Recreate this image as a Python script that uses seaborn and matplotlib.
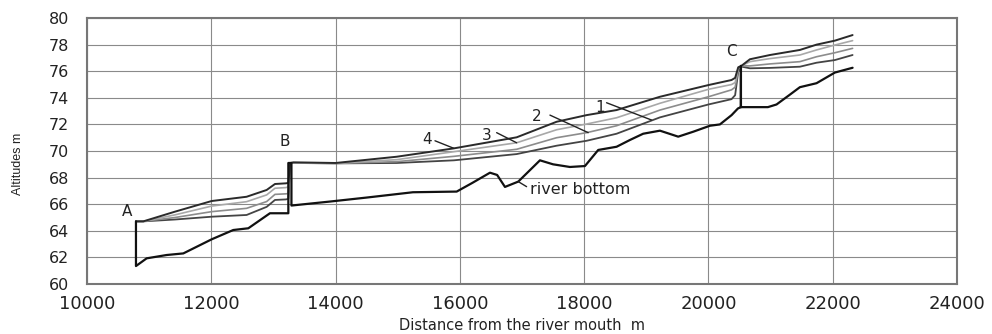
import matplotlib
matplotlib.use("Agg")
import matplotlib.pyplot as plt
import seaborn as sns
import pandas as pd

# ---- data ----
water_x = [10788, 10906, 11416, 12006, 12568, 12891, 13025, 13200, 13240, 13270, 13320,
           14000, 14983, 15905, 16914, 17557, 18040, 18522, 19220, 20000, 20372, 20430,
           20480, 20530, 20668, 20990, 21472, 21740, 22035, 22320]
line4 = [64.71, 64.71, 65.44, 66.24, 66.56, 67.07, 67.52, 67.57, 67.6, 69.1, 69.15,
         69.1, 69.57, 70.2, 71.03, 72.2, 72.7, 73.08, 74.08, 74.96, 75.34, 75.5,
         76.3, 76.4, 76.9, 77.22, 77.6, 78.0, 78.3, 78.72]
line3 = [64.71, 64.71, 65.2, 65.86, 66.19, 66.7, 67.2, 67.25, 67.3, 69.1, 69.1,
         69.08, 69.35, 69.95, 70.62, 71.6, 72.03, 72.5, 73.59, 74.64, 75.0, 75.15,
         76.2, 76.4, 76.72, 76.95, 77.22, 77.6, 77.97, 78.3]
line2 = [64.71, 64.71, 65.0, 65.44, 65.69, 66.2, 66.74, 66.78, 66.8, 69.1, 69.1,
         69.07, 69.2, 69.6, 70.13, 71.0, 71.38, 71.9, 73.08, 74.08, 74.6, 74.8,
         76.1, 76.4, 76.4, 76.55, 76.72, 77.09, 77.39, 77.72]
line1 = [64.71, 64.71, 64.85, 65.06, 65.19, 65.8, 66.32, 66.36, 66.4, 69.1, 69.1,
         69.07, 69.1, 69.3, 69.77, 70.4, 70.77, 71.3, 72.53, 73.5, 73.9, 74.2,
         76.0, 76.35, 76.22, 76.25, 76.34, 76.64, 76.84, 77.22]

bottom_x = [10788, 10788, 10788, 10960, 11282, 11550, 12006, 12354, 12596, 12944, 13240,
            13240, 13290, 13290, 13910, 14500, 15245, 15949, 16200, 16485, 16600, 16726,
            16940, 17289, 17500, 17771, 18013, 18227, 18522, 18737, 18950, 19220, 19514,
            19755, 20024, 20185, 20373, 20475, 20523, 20523, 20523, 20957, 21096, 21300,
            21472, 21740, 22035, 22320]
bottom_y = [64.71, 64.71, 61.35, 61.93, 62.18, 62.3, 63.36, 64.06, 64.19, 65.32, 65.32,
            69.1, 69.1, 65.9, 66.2, 66.5, 66.9, 66.95, 67.6, 68.37, 68.2, 67.3,
            67.7, 69.3, 69.0, 68.8, 68.87, 70.08, 70.32, 70.83, 71.3, 71.53, 71.08,
            71.45, 71.9, 72.0, 72.7, 73.2, 73.3, 76.4, 73.3, 73.3, 73.5, 74.2,
            74.8, 75.1, 75.9, 76.26]

x_ticks = [10000, 12000, 14000, 16000, 18000, 20000, 22000, 24000]
y_ticks = [60, 62, 64, 66, 68, 70, 72, 74, 76, 78, 80]

line_labels = ["1", "2", "3", "4"]
label_text_xy = [(18254, 73.3), (17236, 72.63), (16431, 71.2), (15466, 70.83)]
label_lead = [((18361, 73.63), (19085, 72.33)), ((17450, 72.7), (18066, 71.38)),
              ((16592, 71.38), (16914, 70.62)), ((15600, 70.77), (15905, 70.2))]
point_labels = ["A", "B", "C"]
point_xy = [(10638, 65.44), (13186, 70.7), (20372, 77.47)]

# ---- figure ----
sns.set_theme(style="white")
plt.rcParams['font.family'] = ['DejaVu Sans']

fig = plt.figure(figsize=(9.92, 3.34), dpi=100)
ax = fig.add_axes([0.0877, 0.1497, 0.8770, 0.7963])

styles = [("#444444", 1.3), ("#8c8c8c", 1.2), ("#a8a8a8", 1.2), ("#2a2a2a", 1.4)]
for ys, (c, lw) in zip([line1, line2, line3, line4], styles):
    df = pd.DataFrame({"x": water_x, "y": ys})
    sns.lineplot(data=df, x="x", y="y", sort=False, estimator=None, color=c, lw=lw, ax=ax)

dfb = pd.DataFrame({"x": bottom_x, "y": bottom_y})
sns.lineplot(data=dfb, x="x", y="y", sort=False, estimator=None, color="#111111", lw=1.6, ax=ax)

ax.set_xlim(10000, 24000)
ax.set_ylim(60, 80)
ax.set_xticks(x_ticks)
ax.set_yticks(y_ticks)
ax.grid(True, color="#8a8a8a", lw=0.8)
ax.set_axisbelow(True)
for s in ax.spines.values():
    s.set_color("#777777")
    s.set_linewidth(1.5)
ax.tick_params(axis="both", length=0, colors="#222222")
ax.tick_params(axis="y", pad=13, labelsize=11.5)
ax.tick_params(axis="x", pad=8, labelsize=13)
ax.set_xlabel("Distance from the river mouth  m", fontsize=10.5, color="#222222")
ax.xaxis.set_label_coords(0.5, -0.128)
ax.set_ylabel("Altitudes m", fontsize=9, color="#222222",
              family=['Liberation Sans'])
ax.yaxis.set_label_coords(-0.072, 0.45)

for lab, (tx, ty), (p0, p1) in zip(line_labels, label_text_xy, label_lead):
    ax.text(tx, ty, lab, fontsize=11, ha="center", va="center", color="#222222")
    ax.plot([p0[0], p1[0]], [p0[1], p1[1]], color="#222222", lw=1.0)

for lab, (tx, ty) in zip(point_labels, point_xy):
    ax.text(tx, ty, lab, fontsize=11, ha="center", va="center", color="#222222")

ax.text(17128, 67.07, "river bottom", fontsize=11.5, ha="left", va="center", color="#222222")
ax.plot([16940, 17074], [67.7, 67.32], color="#222222", lw=1.0)

fig.savefig("out.png", dpi=100)
